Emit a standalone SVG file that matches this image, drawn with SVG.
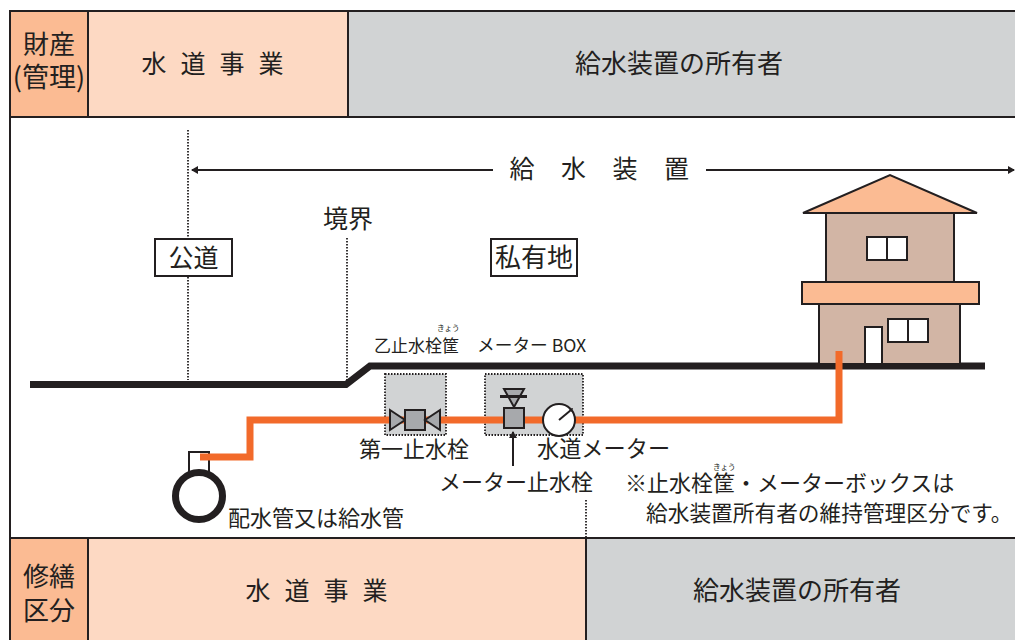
<svg xmlns="http://www.w3.org/2000/svg" width="1015" height="640" viewBox="0 0 1015 640">
<style>
text{font-family:"Noto Sans CJK JP","Noto Sans",sans-serif;fill:#231f20}
.h{font-size:25px;text-anchor:middle}
.w{font-size:26px;text-anchor:middle}
.m{font-size:22px}
.r{font-size:7.500px}
.cell{stroke:#231f20;stroke-width:2}
.dot{fill:none;stroke:#231f20;stroke-width:1.800;stroke-dasharray:1.500 1.500}
.ln{fill:none;stroke:#231f20;stroke-width:2}
.box{fill:#d1d3d4;stroke:#231f20;stroke-width:1.800;stroke-dasharray:1.500 1.500}
.v{fill:#a7a9ac;stroke:#231f20;stroke-width:2}
.wall{fill:#d2b5a5;stroke:#231f20;stroke-width:2}
.roof{fill:#fbbb93;stroke:#231f20;stroke-width:2}
.win{fill:#fff;stroke:#231f20;stroke-width:2}
</style>
<defs>
<marker id="ah" markerWidth="7" markerHeight="8" refX="6" refY="4" orient="auto-start-reverse" markerUnits="userSpaceOnUse"><path d="M0 0L7 4L0 8Z" fill="#231f20"/></marker>
</defs>
<rect width="1015" height="640" fill="#fff"/>
<g id="header">
<rect class="cell" x="10" y="11" width="78" height="106" fill="#fbbb93"/>
<rect class="cell" x="88" y="11" width="260" height="106" fill="#fdd9c3"/>
<rect class="cell" x="348" y="11" width="669" height="106" fill="#d1d3d4"/>
<text class="w" x="49" y="54">財産</text>
<text class="w" x="49" y="87" style="font-size:27px">(管理)</text>
<text class="h" x="219.500" y="73" letter-spacing="14">水道事業</text>
<text class="w" x="679" y="73">給水装置の所有者</text>
</g>
<g id="footer">
<rect class="cell" x="10" y="538" width="78" height="104" fill="#fbbb93"/>
<rect class="cell" x="88" y="538" width="498" height="104" fill="#fdd9c3"/>
<rect class="cell" x="586" y="538" width="431" height="104" fill="#d1d3d4"/>
<text class="w" x="49" y="586">修繕</text>
<text class="w" x="49" y="620">区分</text>
<text class="h" x="323.500" y="600" letter-spacing="14">水道事業</text>
<text class="w" x="797" y="600">給水装置の所有者</text>
</g>
<line class="ln" x1="10" y1="117" x2="10" y2="538"/>
<g id="connectors">
<path class="dot" d="M188 130V380"/>
<path class="dot" d="M347 238V384"/>
<path class="dot" d="M586 500V538"/>
<path class="ln" d="M493 170H192" marker-end="url(#ah)"/>
<path class="ln" d="M706 170H1014" marker-end="url(#ah)"/>
<path d="M30 384.500H346L370 366H985" fill="none" stroke="#231f20" stroke-width="7"/>
</g>
<g id="house">
<rect class="wall" x="826" y="213" width="128" height="69"/>
<path class="roof" d="M803 213L890 175L977 213Z"/>
<rect class="win" x="867" y="237" width="40" height="23"/><path class="ln" d="M887 237V260"/>
<rect class="wall" x="819" y="304" width="141" height="60"/>
<rect class="roof" x="802" y="282" width="177" height="22"/>
<rect class="win" x="865" y="327" width="17" height="37"/>
<rect class="win" x="888" y="319" width="40" height="23"/><path class="ln" d="M908 319V342"/>
</g>
<g id="boxes">
<rect class="box" x="385" y="374" width="61" height="61"/>
<rect class="box" x="485" y="374" width="98" height="61"/>
</g>
<g id="pipe">
<path class="ln" d="M189 472V452H209V472"/>
<circle cx="199" cy="496" r="23.500" fill="#fff" stroke="#231f20" stroke-width="7"/>
<path d="M200 457H250V420H839V351" fill="none" stroke="#f26a2a" stroke-width="7"/>
</g>
<g id="valve1">
<path class="v" d="M390 410L405 420L390 430Z"/>
<rect class="v" x="405" y="410" width="20" height="20"/>
<path class="v" d="M440 410L425 420L440 430Z"/>
</g>
<g id="valve2">
<path class="v" d="M504 389H524L514 407Z"/>
<path class="ln" d="M500 396.500H527" style="stroke-width:3"/>
<rect class="v" x="504" y="408" width="20" height="20"/>
</g>
<g id="meter">
<circle cx="559" cy="420" r="16" fill="#fff" stroke="#231f20" stroke-width="2"/>
<path class="ln" d="M559 420L571 410"/>
<path d="M573 408L569 409L572 412Z" fill="#231f20"/>
</g>
<path class="ln" d="M513 466V432" marker-end="url(#ah)"/>
<g id="labels">
<text class="h" x="348" y="228">境界</text>
<g id="kodo"><rect x="155" y="239" width="77" height="37" fill="#fff" stroke="#231f20" stroke-width="2"/><text class="h" x="193.500" y="267">公道</text></g>
<g id="shiyuchi"><rect x="491" y="239" width="86" height="37" fill="#fff" stroke="#231f20" stroke-width="2"/><text class="h" x="534" y="267" style="font-size:26px">私有地</text></g>
<text class="h" x="612.500" y="178" letter-spacing="26.500">給水装置</text>
<text x="374" y="352" style="font-size:17px">乙止水栓筐</text>
<text class="r" x="437" y="331">きょう</text>
<text x="477" y="352" style="font-size:17.700px">メーター BOX</text>
<text class="m" x="359" y="457">第一止水栓</text>
<text class="m" x="537" y="457" style="font-size:22.200px">水道メーター</text>
<text class="m" x="439" y="490">メーター止水栓</text>
<text class="m" x="625" y="491">※止水栓筐・メーターボックスは</text>
<text class="r" x="713" y="470">きょう</text>
<text class="m" x="646" y="521" style="font-size:21.700px">給水装置所有者の維持管理区分です。</text>
<text class="m" x="228" y="526">配水管又は給水管</text>
</g>
</svg>
